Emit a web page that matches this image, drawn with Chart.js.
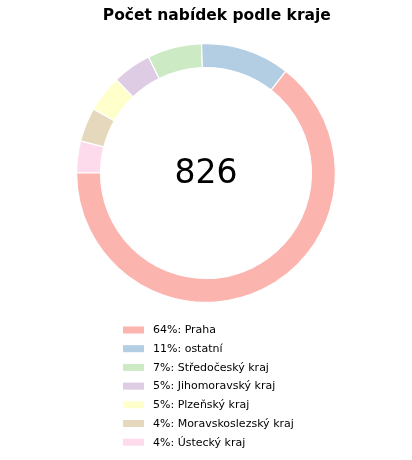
<!DOCTYPE html>
<html>
<head>
<meta charset="utf-8">
<script src="https://cdn.jsdelivr.net/npm/chart.js@4/dist/chart.umd.min.js"></script>
<style>
  html, body { margin: 0; padding: 0; background: #fff; }
  #wrap { width: 412px; height: 460px; position: relative; }
</style>
</head>
<body>
<div id="wrap"><canvas id="c" width="412" height="460"></canvas></div>
<script>
const title = "Počet nabídek podle kraje";
const categories = ["Praha", "ostatní", "Středočeský kraj", "Jihomoravský kraj", "Plzeňský kraj", "Moravskoslezský kraj", "Ústecký kraj"];
const counts = [532, 92, 56, 40, 38, 35, 33];
const colors = ["#fbb4ae", "#b3cde3", "#ccebc5", "#decbe4", "#ffffcc", "#e5d8bd", "#fddaec"];

const total = counts.reduce((a, b) => a + b, 0);
const pct = counts.map(v => Math.round(v / total * 100));
const legendTexts = categories.map((c, i) => pct[i] + "%: " + c);

// Chart.js draws clockwise from the top; the reference runs counter-clockwise from 9 o'clock.
const revLabels = categories.slice().reverse();
const revCounts = counts.slice().reverse();
const revColors = colors.slice().reverse();

const FONT = "'DejaVu Sans', sans-serif";

const centerText = {
  id: 'centerText',
  afterDatasetsDraw(chart) {
    const arc = chart.getDatasetMeta(0).data[0];
    const ctx = chart.ctx;
    ctx.save();
    ctx.font = "33px " + FONT;
    ctx.fillStyle = "#000";
    ctx.textAlign = "center";
    ctx.textBaseline = "middle";
    ctx.fillText(String(total), arc.x, arc.y + 1);
    ctx.restore();
  }
};

const listLegend = {
  id: 'listLegend',
  afterDraw(chart) {
    const ctx = chart.ctx;
    const area = chart.chartArea;
    ctx.save();
    ctx.font = "11px " + FONT;
    const boxW = 21, boxH = 7, gap = 9, rowH = 18.7;
    let maxW = 0;
    legendTexts.forEach(t => { maxW = Math.max(maxW, ctx.measureText(t).width); });
    const blockW = boxW + gap + maxW;
    const left = Math.round((area.left + area.right) / 2 - blockW / 2) + 2;
    const top = area.bottom + 27;
    ctx.textBaseline = "middle";
    ctx.textAlign = "left";
    legendTexts.forEach((t, i) => {
      const y = top + i * rowH;
      ctx.fillStyle = colors[i];
      ctx.fillRect(left, y - boxH / 2, boxW, boxH);
      ctx.fillStyle = "#000";
      ctx.fillText(t, left + boxW + gap, y + 0.5);
    });
    ctx.restore();
  }
};

new Chart(document.getElementById('c'), {
  type: 'doughnut',
  data: {
    labels: revLabels,
    datasets: [{
      data: revCounts,
      backgroundColor: revColors,
      borderColor: '#ffffff',
      borderWidth: 1.2,
      hoverOffset: 0
    }]
  },
  options: {
    responsive: false,
    animation: false,
    rotation: -90,
    cutout: '81.5%',
    layout: { padding: { top: 0, bottom: 157, left: 0, right: 0 } },
    plugins: {
      legend: { display: false },
      tooltip: { enabled: false },
      title: {
        display: true,
        text: "    " + title,
        color: '#000',
        font: { family: FONT, size: 15.5, weight: 'bold', lineHeight: 1.2 },
        padding: { top: 7, bottom: 17.4 }
      }
    }
  },
  plugins: [centerText, listLegend]
});
</script>
</body>
</html>
